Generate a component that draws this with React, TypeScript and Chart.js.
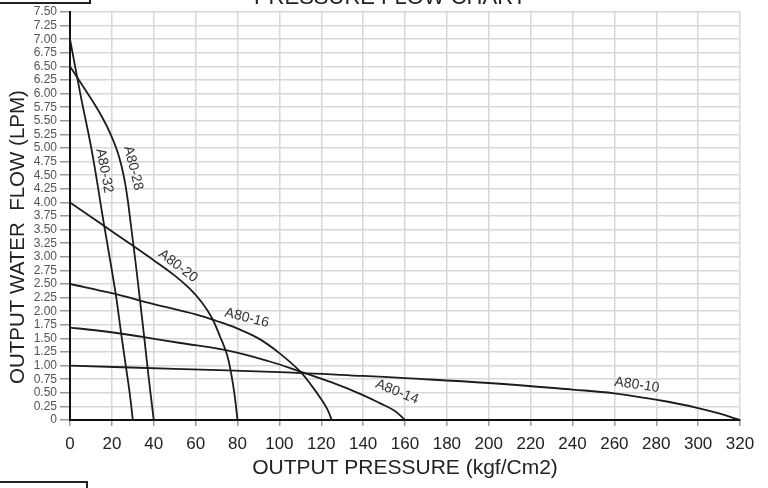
import React, { useEffect, useRef } from "react";
import { Chart, registerables } from "chart.js";

Chart.register(...registerables);

// ---- data ----
const seriesNames = ["A80-10", "A80-14", "A80-16", "A80-20", "A80-28", "A80-32"];

const a8010X = [0, 50, 100, 140, 160, 200, 240, 260, 285, 300, 310, 320];
const a8010Y = [1.0, 0.94, 0.88, 0.81, 0.77, 0.68, 0.56, 0.49, 0.34, 0.22, 0.12, 0];

const a8014X = [0, 12, 24, 36, 52, 75, 95, 110, 125, 138, 148, 155, 160];
const a8014Y = [1.7, 1.65, 1.59, 1.52, 1.42, 1.28, 1.08, 0.89, 0.69, 0.49, 0.31, 0.17, 0];

const a8016X = [0, 20, 40, 60, 70, 80, 90, 100, 110, 116, 120, 123, 125];
const a8016Y = [2.5, 2.33, 2.13, 1.94, 1.82, 1.68, 1.5, 1.23, 0.89, 0.6, 0.38, 0.19, 0];

const a8020X = [0, 14.3, 28.7, 40.6, 50.2, 57.3, 63, 67.8, 71.6, 75, 77.1, 78.6, 80];
const a8020Y = [4.0, 3.62, 3.24, 2.92, 2.65, 2.41, 2.16, 1.875, 1.54, 1.2, 0.83, 0.46, 0];

const a8028X = [0, 5.25, 10.5, 15.3, 19.1, 22.45, 24.6, 26.3, 27.7, 29.1, 31.3, 33.4, 35.6, 37.7, 40];
const a8028Y = [6.5, 6.19, 5.88, 5.57, 5.28, 4.96, 4.67, 4.36, 4.01, 3.58, 2.9, 2.21, 1.47, 0.74, 0];

const a8032X = [0, 5, 10.5, 16, 21.7, 24.4, 26.7, 28.5, 30];
const a8032Y = [7.0, 5.98, 4.93, 3.65, 2.35, 1.6, 0.98, 0.5, 0];

const seriesX = [a8010X, a8014X, a8016X, a8020X, a8028X, a8032X];
const seriesY = [a8010Y, a8014Y, a8016Y, a8020Y, a8028Y, a8032Y];

// curve label anchors (data coordinates) and text angles (degrees)
const labelX = [270.8, 156.2, 84.5, 51.6, 30.2, 16.4];
const labelY = [0.643, 0.515, 1.875, 2.83, 4.63, 4.58];
const labelAngle = [8, 22, 14, 37, 76, 79];

const xTitle = "OUTPUT PRESSURE (kgf/Cm2)";
const yTitle = "OUTPUT WATER  FLOW (LPM)";
const chartTitle = "PRESSURE FLOW CHART";

const FONT = '"Liberation Sans", Arial, Helvetica, sans-serif';

const decorPlugin = {
  id: "decor",
  afterDatasetsDraw(chart: any) {
    const { ctx, scales } = chart;
    const xs = scales.x;
    const ys = scales.y;
    ctx.save();
    ctx.fillStyle = "#333";
    ctx.font = `14px ${FONT}`;
    ctx.textAlign = "center";
    ctx.textBaseline = "middle";
    for (let i = 0; i < seriesNames.length; i++) {
      const px = xs.getPixelForValue(labelX[i]);
      const py = ys.getPixelForValue(labelY[i]);
      ctx.save();
      ctx.translate(px, py);
      ctx.rotate((labelAngle[i] * Math.PI) / 180);
      ctx.fillText(seriesNames[i], 0, 0);
      ctx.restore();
    }
    ctx.restore();
  },
  afterDraw(chart: any) {
    const { ctx } = chart;
    ctx.save();
    // y axis title
    ctx.fillStyle = "#222";
    ctx.font = `20.5px ${FONT}`;
    ctx.textAlign = "center";
    ctx.textBaseline = "middle";
    ctx.translate(18, 237);
    ctx.rotate(-Math.PI / 2);
    ctx.fillText(yTitle, 0, 0);
    ctx.restore();

    ctx.save();
    // cut-off chart title at top
    ctx.fillStyle = "#222";
    ctx.font = `22px ${FONT}`;
    ctx.textAlign = "center";
    ctx.textBaseline = "alphabetic";
    ctx.fillText(chartTitle, 390, 4);
    // decorative boxes at the edges
    ctx.strokeStyle = "#222";
    ctx.lineWidth = 2;
    ctx.strokeRect(-2, -4, 92, 7);
    ctx.strokeRect(-2, 482, 89, 10);
    ctx.restore();
  },
};

export default function App() {
  const ref = useRef<HTMLCanvasElement | null>(null);

  useEffect(() => {
    document.body.style.margin = "0";
    const canvas = ref.current;
    if (!canvas) return;
    const datasets = seriesNames.map((name, i) => ({
      label: name,
      data: seriesX[i].map((x, j) => ({ x, y: seriesY[i][j] })),
      borderColor: "#1c1c1c",
      borderWidth: 1.8,
      pointRadius: 0,
      fill: false,
      tension: 0.4,
    }));
    const chart = new Chart(canvas, {
      type: "line",
      data: { datasets },
      plugins: [decorPlugin],
      options: {
        responsive: false,
        animation: false,
        layout: { padding: { top: 12, right: 28, left: 0, bottom: 0 } },
        plugins: {
          legend: { display: false },
          tooltip: { enabled: false },
        },
        scales: {
          x: {
            type: "linear",
            min: 0,
            max: 320,
            afterFit: (s: any) => {
              s.height = 68;
            },
            ticks: {
              stepSize: 20,
              autoSkip: false,
              maxRotation: 0,
              color: "#222",
              padding: 8,
              font: { family: FONT, size: 17 },
            },
            grid: {
              color: "#d8d8d8",
              lineWidth: 1.5,
              tickColor: "#999",
              tickLength: 6,
            },
            border: { display: true, color: "#111", width: 2 },
            title: {
              display: true,
              text: xTitle,
              color: "#222",
              font: { family: FONT, size: 21 },
              padding: { top: 0, bottom: 7 },
            },
          },
          y: {
            type: "linear",
            min: 0,
            max: 7.5,
            afterFit: (s: any) => {
              s.width = 70;
            },
            ticks: {
              stepSize: 0.25,
              autoSkip: false,
              color: "#555",
              padding: 3,
              font: { family: FONT, size: 12 },
              callback: (v: any) => (Number(v) === 0 ? "0" : Number(v).toFixed(2)),
            },
            grid: {
              color: "#d8d8d8",
              lineWidth: 1.5,
              tickColor: "#999",
              tickLength: 10,
            },
            border: { display: true, color: "#111", width: 2 },
          },
        },
      } as any,
    });
    return () => chart.destroy();
  }, []);

  return (
    <div style={{ width: 768, height: 488, background: "#fff" }}>
      <canvas ref={ref} width={768} height={488} style={{ display: "block" }} />
    </div>
  );
}
